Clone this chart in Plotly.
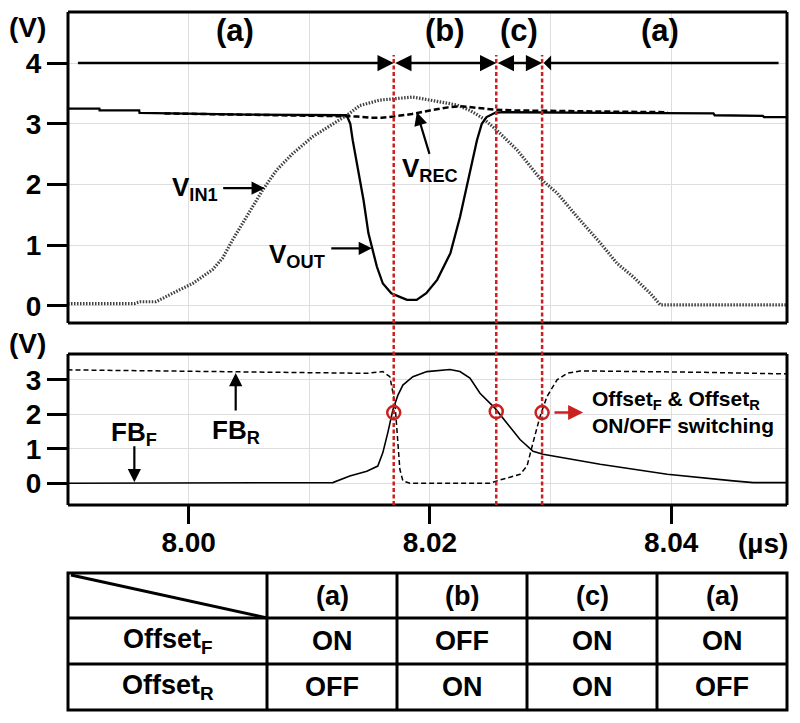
import plotly.graph_objects as go

# ---------------- data ----------------
t_vout = [7.9900, 7.9926, 7.99262, 7.9959, 7.99593, 7.9995, 8.0050, 8.0131, 8.0134, 8.0136,
          8.0140, 8.0145, 8.0149, 8.0152, 8.0156, 8.0161, 8.0168, 8.0175, 8.0181, 8.0189,
          8.0197, 8.0206, 8.0217, 8.0225, 8.0233, 8.0239, 8.0243, 8.0247, 8.0254, 8.0260,
          8.0350, 8.0435, 8.0436, 8.0476, 8.0477, 8.0500]
v_out = [3.25, 3.25, 3.22, 3.22, 3.18, 3.17, 3.15, 3.14, 3.00, 2.73,
         2.29, 1.74, 1.20, 0.95, 0.65, 0.37, 0.21, 0.15, 0.10, 0.10,
         0.21, 0.43, 0.87, 1.47, 2.18, 2.73, 3.00, 3.11, 3.18, 3.19,
         3.18, 3.17, 3.14, 3.13, 3.11, 3.11]

t_vrec = [7.9980, 8.0050, 8.0131, 8.0140, 8.0150, 8.0160, 8.0170, 8.0185, 8.0200, 8.0215,
          8.0225, 8.0235, 8.0255, 8.0270, 8.0300, 8.0350, 8.0397]
v_rec = [3.17, 3.15, 3.13, 3.12, 3.10, 3.10, 3.12, 3.16, 3.22, 3.27,
         3.29, 3.27, 3.23, 3.22, 3.21, 3.20, 3.19]

t_vin = [7.9900, 7.9955, 7.9960, 7.9973, 7.99867, 8.00033, 8.00199, 8.00282, 8.00365, 8.00481,
         8.00614, 8.0073, 8.00863, 8.0103, 8.01195, 8.01311, 8.01419, 8.01585, 8.01751, 8.01859,
         8.02083, 8.02224, 8.02332, 8.0244, 8.02556, 8.02722, 8.02913, 8.03054, 8.0322, 8.03411,
         8.03552, 8.03685, 8.03826, 8.03909, 8.0500]
v_in = [0.04, 0.04, 0.07, 0.07, 0.21, 0.37, 0.60, 0.79, 1.09, 1.47,
        1.91, 2.24, 2.51, 2.79, 3.00, 3.14, 3.30, 3.39, 3.42, 3.44,
        3.36, 3.31, 3.22, 3.09, 2.89, 2.57, 2.10, 1.86, 1.47, 1.04,
        0.70, 0.48, 0.21, 0.02, 0.02]

t_fbf = [7.98996, 8.01195, 8.01336, 8.01477, 8.01568, 8.0161, 8.01651, 8.01693, 8.01734, 8.01776,
         8.01859, 8.01975, 8.02166, 8.02249, 8.02332, 8.02415, 8.02539, 8.02639, 8.02747, 8.02855,
         8.02938, 8.03411, 8.03967, 8.04515, 8.0468, 8.0500]
fb_f = [0.00, 0.02, 0.21, 0.35, 0.50, 0.89, 1.47, 2.13, 2.55, 2.85,
        3.09, 3.24, 3.30, 3.24, 3.05, 2.61, 2.18, 1.75, 1.27, 0.93,
        0.84, 0.55, 0.26, 0.07, 0.02, 0.02]

t_fbr = [7.98996, 8.00091, 8.00921, 8.01477, 8.0161, 8.01668, 8.0171, 8.01734, 8.01751, 8.01776,
         8.01834, 8.02498, 8.02556, 8.02747, 8.02805, 8.02855, 8.02913, 8.02971, 8.03054, 8.03137,
         8.03245, 8.04241, 8.0500]
fb_r = [3.29, 3.25, 3.21, 3.19, 3.24, 3.09, 2.33, 1.18, 0.40, 0.07,
        0.00, 0.00, 0.07, 0.26, 0.50, 1.18, 1.94, 2.52, 3.00, 3.19,
        3.26, 3.22, 3.17]

switch_t = [8.0170, 8.0255, 8.0293]
switch_v = [2.05, 2.08, 2.05]

region_labels = ['(a)', '(b)', '(c)', '(a)']
region_bounds = [7.9907, 8.0170, 8.0255, 8.0293, 8.0489]

x_tickvals = [8.00, 8.02, 8.04]
x_ticktext = ['8.00', '8.02', '8.04']
top_yticks = [0, 1, 2, 3, 4]
bot_yticks = [0, 1, 2, 3]

row_labels = ['Offset<sub>F</sub>', 'Offset<sub>R</sub>']
offset_f = ['ON', 'OFF', 'ON', 'ON']
offset_r = ['OFF', 'ON', 'ON', 'OFF']

# ---------------- layout helpers ----------------
W, H = 800, 723
FONT = "Liberation Sans, Arial, sans-serif"
RED = '#cc2020'


def px(xp):
    return xp / W


def py(yp):
    return 1 - yp / H


fig = go.Figure()

# top plot traces
fig.add_trace(go.Scatter(x=t_vin, y=v_in, mode='lines', xaxis='x', yaxis='y',
                         line=dict(color='#404040', width=3.2, dash='1.5px,1.5px')))
fig.add_trace(go.Scatter(x=t_vout, y=v_out, mode='lines', xaxis='x', yaxis='y',
                         line=dict(color='black', width=2.3)))
fig.add_trace(go.Scatter(x=t_vrec, y=v_rec, mode='lines', xaxis='x', yaxis='y',
                         line=dict(color='black', width=2.5, dash='6px,3px')))

# bottom plot traces
fig.add_trace(go.Scatter(x=t_fbr, y=fb_r, mode='lines', xaxis='x2', yaxis='y2',
                         line=dict(color='black', width=1.5, dash='5px,3px')))
fig.add_trace(go.Scatter(x=t_fbf, y=fb_f, mode='lines', xaxis='x2', yaxis='y2',
                         line=dict(color='black', width=1.6)))
fig.add_trace(go.Scatter(x=switch_t, y=switch_v, mode='markers', xaxis='x2', yaxis='y2',
                         marker=dict(symbol='circle-open', size=13, color=RED,
                                     line=dict(color=RED, width=2.5))))

xr = [7.99, 8.0496]
frame = dict(showline=False, zeroline=False, showgrid=True, gridcolor='#dedede', gridwidth=1)
tickfont = dict(family=FONT, size=28, color='black', weight='bold')

shapes = []
annotations = []

# plot frames drawn as four separate paper-referenced edges
PL, PR = 68, 787
frames_px = [(12, 323), (354, 505)]
fline = dict(color='black', width=3)
for (ft, fb) in frames_px:
    for (xa, xb, ya, yb) in [(PL, PR, ft, ft), (PL, PR, fb, fb), (PL, PL, ft, fb), (PR, PR, ft, fb)]:
        shapes.append(dict(type='line', xref='paper', yref='paper', x0=px(xa), x1=px(xb),
                           y0=py(ya), y1=py(yb), line=fline, layer='above'))

# red dashed switching lines across both plots
for t in switch_t:
    shapes.append(dict(type='line', xref='x', yref='paper', x0=t, x1=t,
                       y0=py(505), y1=py(55), line=dict(color=RED, width=2.5, dash='4px,2.5px'),
                       layer='above'))

# region arrows at 4 V
sides = ['end', 'end+start', 'end+start', 'start']
for i in range(4):
    annotations.append(dict(x=region_bounds[i + 1], y=4, ax=region_bounds[i], ay=4,
                            xref='x', yref='y', axref='x', ayref='y', text='',
                            showarrow=True, arrowhead=2, arrowsize=1.3, arrowwidth=2.5,
                            arrowcolor='black', arrowside=sides[i], standoff=0, startstandoff=0))
    annotations.append(dict(x=(region_bounds[i] + region_bounds[i + 1]) / 2, y=4.53,
                            xref='x', yref='y', xanchor='center', yanchor='middle',
                            text=region_labels[i], showarrow=False,
                            font=dict(family=FONT, size=31, color='black', weight='bold')))

lab = dict(family=FONT, size=26, color='black', weight='bold')


def arrow(x, y, ax, ay, xr_='x', yr_='y', color='black', width=2.2):
    annotations.append(dict(x=x, y=y, ax=ax, ay=ay, xref=xr_, yref=yr_, axref=xr_, ayref=yr_,
                            text='', showarrow=True, arrowhead=2, arrowsize=1.2,
                            arrowwidth=width, arrowcolor=color, standoff=0))


# top labels
annotations.append(dict(x=8.00257, y=1.93, xref='x', yref='y', xanchor='right', yanchor='middle',
                        text='V<sub>IN1</sub>', showarrow=False, font=lab))
arrow(8.00631, 1.94, 8.00274, 1.94)
annotations.append(dict(x=8.01145, y=0.83, xref='x', yref='y', xanchor='right', yanchor='middle',
                        text='V<sub>OUT</sub>', showarrow=False, font=lab))
arrow(8.01519, 0.95, 8.0117, 0.95)
annotations.append(dict(x=8.0175, y=2.25, xref='x', yref='y', xanchor='left', yanchor='middle',
                        text='V<sub>REC</sub>', showarrow=False, font=lab))
arrow(8.01892, 3.19, 8.0200, 2.48)

# bottom labels
annotations.append(dict(x=7.9955, y=1.45, xref='x2', yref='y2', xanchor='center', yanchor='middle',
                        text='FB<sub>F</sub>', showarrow=False, font=lab))
arrow(7.9955, 0.03, 7.9955, 1.12, 'x2', 'y2')
annotations.append(dict(x=8.0039, y=1.5, xref='x2', yref='y2', xanchor='center', yanchor='middle',
                        text='FB<sub>R</sub>', showarrow=False, font=lab))
arrow(8.0039, 3.2, 8.0039, 2.07, 'x2', 'y2')
arrow(8.0327, 2.05, 8.0302, 2.05, 'x2', 'y2', color=RED, width=2.5)
annotations.append(dict(x=8.03328, y=2.08, xref='x2', yref='y2', xanchor='left', yanchor='middle',
                        align='left', text='Offset<sub>F</sub> &amp; Offset<sub>R</sub><br>ON/OFF switching',
                        showarrow=False, font=dict(family=FONT, size=21, color='black', weight='bold')))

# unit labels
ufont = dict(family=FONT, size=28, color='black', weight='bold')
for (ux, uy, ut) in [(27, 28, '(V)'), (27, 343, '(V)'), (763, 543, '(µs)')]:
    annotations.append(dict(x=px(ux), y=py(uy), xref='paper', yref='paper', text=ut,
                            xanchor='center', yanchor='middle', showarrow=False, font=ufont))

# ---------------- table ----------------
tx0, tx1, col1 = 68, 787, 267
ty = [573, 618, 664, 710]
ncol = len(region_labels)
cw = (tx1 - col1) / ncol
col_edges = [tx0] + [col1 + i * cw for i in range(ncol + 1)]
tline = dict(color='black', width=3)
shapes.append(dict(type='rect', xref='paper', yref='paper', x0=px(tx0), x1=px(tx1),
                   y0=py(ty[-1]), y1=py(ty[0]), line=tline))
for xe in col_edges[1:-1]:
    shapes.append(dict(type='line', xref='paper', yref='paper', x0=px(xe), x1=px(xe),
                       y0=py(ty[-1]), y1=py(ty[0]), line=tline))
for ye in ty[1:-1]:
    shapes.append(dict(type='line', xref='paper', yref='paper', x0=px(tx0), x1=px(tx1),
                       y0=py(ye), y1=py(ye), line=tline))
shapes.append(dict(type='line', xref='paper', yref='paper', x0=px(tx0 + 3), x1=px(col1),
                   y0=py(ty[0] + 2), y1=py(ty[1]), line=tline))

tfont = dict(family=FONT, size=27, color='black', weight='bold')
rows = [region_labels, offset_f, offset_r]
for r, vals in enumerate(rows):
    yc = (ty[r] + ty[r + 1]) / 2
    if r > 0:
        annotations.append(dict(x=px((tx0 + col1) / 2), y=py(yc), xref='paper', yref='paper',
                                text=row_labels[r - 1], showarrow=False, font=tfont,
                                xanchor='center', yanchor='middle'))
    for c, v in enumerate(vals):
        annotations.append(dict(x=px(col1 + (c + 0.5) * cw), y=py(yc), xref='paper', yref='paper',
                                text=v, showarrow=False, font=tfont,
                                xanchor='center', yanchor='middle'))

fig.update_layout(
    width=W, height=H, margin=dict(l=0, r=0, t=0, b=0),
    paper_bgcolor='white', plot_bgcolor='white', showlegend=False,
    font=dict(family=FONT, color='black'),
    xaxis=dict(domain=[px(PL), px(PR)], anchor='y', range=xr, tickvals=[7.99 + 0.01 * i for i in range(7)],
               showticklabels=False, ticks='', **frame),
    yaxis=dict(domain=[py(323), py(12)], anchor='x', range=[-0.28, 4.84], tickvals=top_yticks,
               ticks='outside', ticklen=20, tickwidth=3, tickcolor='black', tickfont=tickfont, **frame),
    xaxis2=dict(domain=[px(PL), px(PR)], anchor='y2', range=xr, tickvals=x_tickvals, ticktext=x_ticktext,
                ticks='outside', ticklen=18, tickwidth=3, tickcolor='black', tickfont=tickfont,
                ticklabelstandoff=-6,
                minor=dict(dtick=0.01, tick0=8.0, showgrid=True, gridcolor='#dedede', ticks=''), **frame),
    yaxis2=dict(domain=[py(505), py(354)], anchor='x2', range=[-0.63, 3.75], tickvals=bot_yticks,
                ticks='outside', ticklen=20, tickwidth=3, tickcolor='black', tickfont=tickfont, **frame),
    shapes=shapes, annotations=annotations,
)

fig.write_html("out.html", config={'displayModeBar': False},
               post_script="document.body.style.margin='0';document.body.style.overflow='hidden';")
